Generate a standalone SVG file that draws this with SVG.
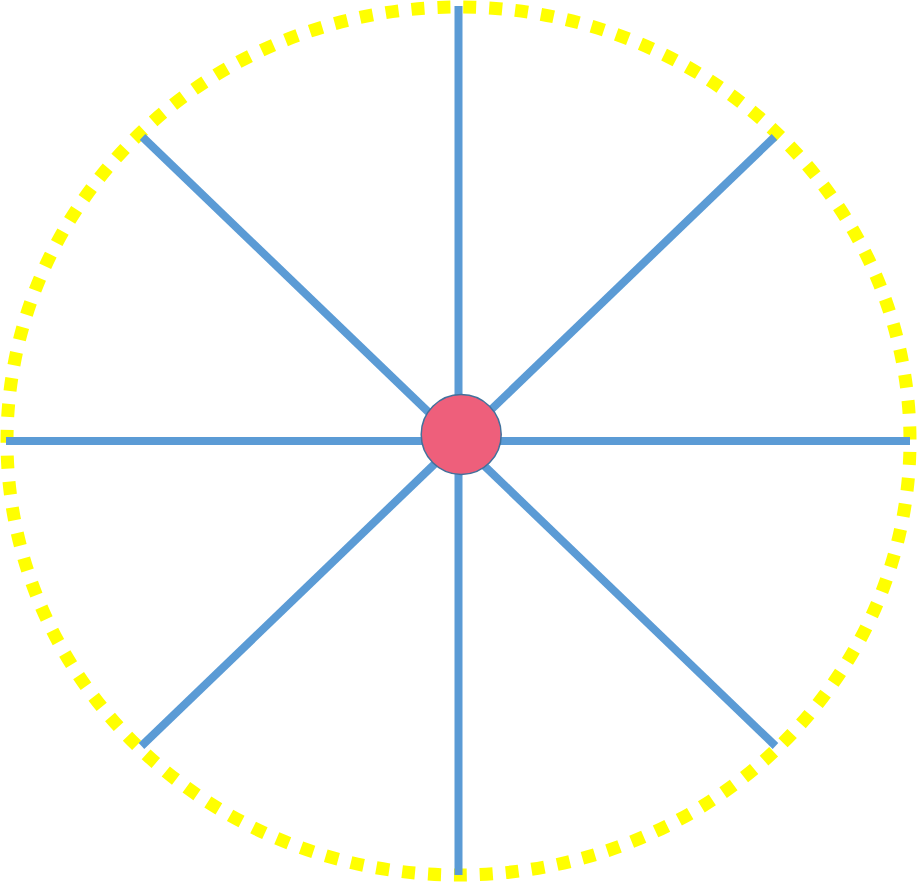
<svg xmlns="http://www.w3.org/2000/svg" width="917" height="882" viewBox="0 0 917 882">
<style>
.spoke{stroke:#5B9BD5;stroke-width:8;stroke-linecap:butt;fill:none}
</style>
<rect width="917" height="882" fill="#FFFFFF"/>
<g id="rim">
<ellipse cx="458.5" cy="441" rx="451.5" ry="434" fill="none" stroke="#FFFF00" stroke-width="13" stroke-dasharray="13 13" stroke-dashoffset="15"/>
</g>
<g id="connectors">
<line class="spoke" x1="458.5" y1="6" x2="458.5" y2="875"/>
<line class="spoke" x1="6" y1="441" x2="910" y2="441"/>
<line class="spoke" x1="142.5" y1="137" x2="458.5" y2="441"/>
<line class="spoke" x1="774.5" y1="137" x2="458.5" y2="441"/>
<line class="spoke" x1="141.5" y1="746" x2="458.5" y2="441"/>
<line class="spoke" x1="775.5" y1="746" x2="458.5" y2="441"/>
</g>
<g id="hub">
<circle cx="461.2" cy="434.5" r="40" fill="#EE5F7B" stroke="#41719C" stroke-width="1.5"/>
</g>
</svg>
